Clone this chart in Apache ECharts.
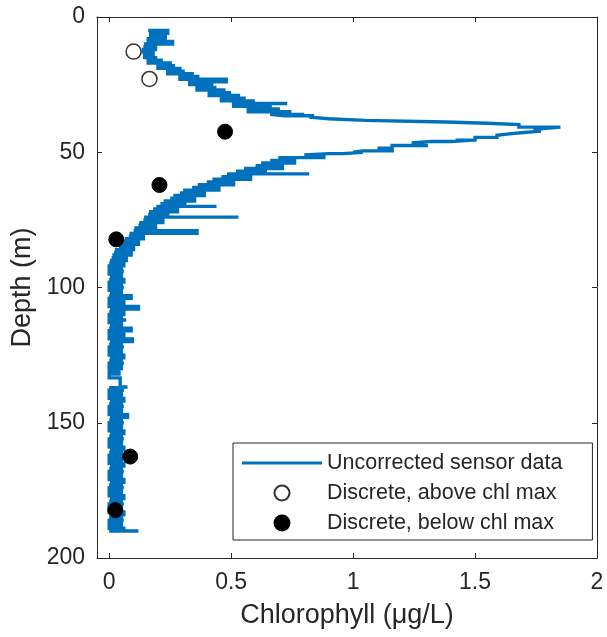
<!DOCTYPE html>
<html>
<head>
<meta charset="utf-8">
<script src="https://cdn.jsdelivr.net/npm/echarts@6/dist/echarts.min.js"></script>
<style>
  html, body { margin: 0; padding: 0; background: #fff; }
  #chart { width: 607px; height: 637px; }
</style>
</head>
<body>
<div id="chart"></div>
<script>
// Sensor profile, binned by depth (m): lowest and highest chlorophyll (ug/L) read in each bin.
// Where low == high the bin holds a single reading.
const binDepth = [
  5, 6, 7, 8, 9, 10, 11, 12, 13, 14,
  15, 16, 17, 18, 19, 20, 21, 22, 23, 24, 25, 26, 27, 28, 29, 30, 31, 32, 33, 34, 35, 36, 36.5,
  37, 37.6, 38.2, 38.8, 39.3, 39.8, 40.7, 41.2, 41.7, 42.2, 42.7, 43.2, 43.7,
  44.5, 45.5, 46, 46.6, 47.5, 48.5, 49.5, 50, 50.5, 51,
  52, 53, 54, 55, 56, 57, 58, 59, 60, 61, 62, 63, 64, 65, 66, 67, 68, 69, 70, 71,
  72, 73, 74, 75, 76, 77, 78, 79, 80, 81, 82, 83, 84, 85, 86, 87, 88, 89, 90, 91,
  92, 93, 94, 95, 96, 97, 98, 99, 100, 101, 102, 103, 104, 105, 106, 107, 108, 109, 110, 111,
  112, 113, 114, 115, 116, 117, 118, 119, 120, 121, 122, 123, 124, 125, 126, 127, 128, 129, 130, 131,
  132, 133.4, 136.8,
  137, 138, 139, 140, 141, 142, 143, 144, 145, 146, 147, 148, 149, 150, 151, 152, 153, 154,
  155, 156, 157, 158, 159, 160, 161, 162, 163, 164, 165, 166, 167, 168, 169, 170, 171, 172,
  173, 174, 175, 176, 177, 178, 179, 180, 181, 182, 183, 184, 185, 186, 187, 188, 189, 190
];
const binLow = [
  0.16, 0.17, 0.17, 0.16, 0.17, 0.15, 0.14, 0.14, 0.14, 0.145,
  0.15, 0.16, 0.18, 0.20, 0.22, 0.24, 0.27, 0.29, 0.31, 0.33, 0.35, 0.36, 0.38, 0.41, 0.43, 0.46, 0.49, 0.51, 0.54, 0.57, 0.61, 0.66, 0.72,
  0.82, 0.90, 1.05, 1.38, 1.55, 1.68, 1.85, 1.78, 1.74, 1.77, 1.70, 1.64, 1.59,
  1.50, 1.42, 1.32, 1.24, 1.16, 1.10, 1.04, 1.00, 0.90, 0.80,
  0.70, 0.66, 0.63, 0.60, 0.56, 0.52, 0.49, 0.46, 0.43, 0.40, 0.37, 0.34, 0.31, 0.29, 0.27, 0.25, 0.23, 0.21, 0.20, 0.18,
  0.17, 0.16, 0.15, 0.14, 0.13, 0.12, 0.11, 0.10, 0.09, 0.08, 0.07, 0.06, 0.05, 0.04, 0.03, 0.02, 0.02, 0.01, 0.01, 0.00,
  0.00, 0.01, 0.00, 0.00, 0.01, 0.00, 0.00, 0.01, 0.00, 0.00, 0.01, 0.00, 0.00, 0.01, 0.00, 0.00, 0.01, 0.00, 0.00, 0.01,
  0.00, 0.00, 0.01, 0.00, 0.00, 0.01, 0.00, 0.00, 0.01, 0.00, 0.00, 0.01, 0.00, 0.00, 0.01, 0.00, 0.00, 0.01, 0.00, 0.00,
  0.00, 0.045, 0.075,
  0.00, 0.00, 0.01, 0.00, 0.00, 0.01, 0.00, 0.00, 0.01, 0.00, 0.00, 0.01, 0.00, 0.00, 0.01, 0.00, 0.00, 0.01,
  0.00, 0.00, 0.01, 0.00, 0.00, 0.01, 0.00, 0.00, 0.01, 0.00, 0.00, 0.01, 0.00, 0.00, 0.01, 0.00, 0.00, 0.01,
  0.00, 0.00, 0.01, 0.00, 0.00, 0.01, 0.00, 0.00, 0.01, 0.00, 0.00, 0.01, 0.00, 0.00, 0.01, 0.00, 0.00, 0.00
];
const binHigh = [
  0.24, 0.22, 0.23, 0.20, 0.26, 0.21, 0.19, 0.18, 0.18, 0.18,
  0.19, 0.22, 0.25, 0.27, 0.29, 0.31, 0.34, 0.37, 0.48, 0.40, 0.42, 0.44, 0.47, 0.50, 0.53, 0.56, 0.59, 0.73, 0.66, 0.70, 0.74, 0.80, 0.84,
  0.82, 0.90, 1.05, 1.38, 1.55, 1.68, 1.85, 1.78, 1.74, 1.77, 1.70, 1.64, 1.59,
  1.56, 1.49, 1.40, 1.30, 1.22, 1.16, 1.10, 1.04, 0.96, 0.88,
  0.78, 0.76, 0.73, 0.71, 0.67, 0.64, 0.82, 0.58, 0.55, 0.51, 0.48, 0.45, 0.42, 0.39, 0.37, 0.35, 0.33, 0.31, 0.44, 0.28,
  0.26, 0.24, 0.53, 0.22, 0.20, 0.19, 0.17, 0.36, 0.15, 0.14, 0.13, 0.12, 0.11, 0.10, 0.09, 0.09, 0.08, 0.07, 0.07, 0.06,
  0.06, 0.05, 0.06, 0.05, 0.05, 0.06, 0.05, 0.05, 0.06, 0.05, 0.05, 0.09, 0.05, 0.06, 0.05, 0.12, 0.05, 0.06, 0.05, 0.05,
  0.07, 0.05, 0.05, 0.09, 0.05, 0.06, 0.05, 0.095, 0.05, 0.05, 0.06, 0.05, 0.05, 0.06, 0.05, 0.05, 0.06, 0.05, 0.05, 0.04,
  0.03, 0.045, 0.075,
  0.05, 0.06, 0.05, 0.05, 0.06, 0.05, 0.05, 0.06, 0.05, 0.05, 0.075, 0.05, 0.05, 0.06, 0.05, 0.05, 0.06, 0.05,
  0.05, 0.06, 0.05, 0.05, 0.06, 0.05, 0.05, 0.06, 0.05, 0.05, 0.06, 0.05, 0.05, 0.06, 0.05, 0.05, 0.06, 0.05,
  0.05, 0.06, 0.05, 0.05, 0.06, 0.05, 0.05, 0.06, 0.05, 0.05, 0.06, 0.05, 0.05, 0.06, 0.05, 0.05, 0.06, 0.12
];

// Discrete bottle samples
const aboveDepth = [12.8, 22.9];
const aboveChl = [0.10, 0.165];
const belowDepth = [42.4, 62.1, 82.2, 162.5, 182.3];
const belowChl = [0.475, 0.206, 0.029, 0.086, 0.025];

// Axis ticks
const chlTicks = [0, 0.5, 1, 1.5, 2];
const depthTicks = [0, 50, 100, 150, 200];

const seriesNames = ['Uncorrected sensor data', 'Discrete, above chl max', 'Discrete, below chl max'];

const ink = '#262626';
const font = '"Liberation Sans", Arial, Helvetica, sans-serif';

// The cast trace sweeps across each bin, alternating direction, so the readings
// inside a bin appear as horizontal runs joined bin to bin.
function castTrace(depths, lows, highs) {
  const pts = [];
  let leftToRight = true;
  depths.forEach((d, i) => {
    const a = lows[i], b = highs[i];
    if (a === b) { pts.push([a, d]); return; }
    if (leftToRight) pts.push([a, d], [b, d]);
    else pts.push([b, d], [a, d]);
    leftToRight = !leftToRight;
  });
  return pts;
}
const pairs = (xs, ys) => xs.map((x, i) => [x, ys[i]]);

const chart = echarts.init(document.getElementById('chart'), null, { renderer: 'canvas' });

const xBase = {
  type: 'value', min: -0.05, max: 2,
  splitLine: { show: false },
  axisLine: { show: true, onZero: false, lineStyle: { color: ink, width: 1 } },
  axisTick: { show: true, inside: true, length: 5, customValues: chlTicks, lineStyle: { color: ink } }
};
const yBase = {
  type: 'value', min: 0, max: 200, inverse: true,
  splitLine: { show: false },
  axisLine: { show: true, onZero: false, lineStyle: { color: ink, width: 1 } },
  axisTick: { show: true, inside: true, length: 5, customValues: depthTicks, lineStyle: { color: ink } }
};

chart.setOption({
  animation: false,
  backgroundColor: '#fff',
  textStyle: { fontFamily: font },
  grid: { left: 97, right: 10, top: 17, bottom: 79, containLabel: false },
  xAxis: [
    Object.assign({}, xBase, {
      position: 'bottom',
      name: 'Chlorophyll (\u03BCg/L)',
      nameLocation: 'middle', nameGap: 44,
      nameTextStyle: { color: ink, fontSize: 27, fontFamily: font },
      axisLabel: { show: true, customValues: chlTicks, margin: 13, color: ink, fontSize: 23, fontFamily: font }
    }),
    Object.assign({}, xBase, { position: 'top', axisLabel: { show: false } })
  ],
  yAxis: [
    Object.assign({}, yBase, {
      position: 'left',
      name: 'Depth (m)',
      nameLocation: 'middle', nameGap: 51, nameRotate: 90,
      nameTextStyle: { color: ink, fontSize: 27, fontFamily: font },
      axisLabel: { show: true, customValues: depthTicks, margin: 12, color: ink, fontSize: 23, fontFamily: font }
    }),
    Object.assign({}, yBase, { position: 'right', axisLabel: { show: false } })
  ],
  legend: {
    orient: 'vertical',
    left: 233, top: 443,
    padding: [9, 30, 6, 9],
    itemWidth: 80, itemHeight: 15, itemGap: 8,
    backgroundColor: '#fff',
    borderColor: ink, borderWidth: 1, borderRadius: 0,
    textStyle: { color: ink, fontSize: 21.5, fontFamily: font },
    data: [
      { name: seriesNames[0], icon: 'path://M0,0L80,0L80,3L0,3Z' },
      { name: seriesNames[1] },
      { name: seriesNames[2] }
    ]
  },
  series: [
    {
      name: seriesNames[0], type: 'line',
      data: castTrace(binDepth, binLow, binHigh),
      step: 'start',
      symbol: 'none', showSymbol: false,
      lineStyle: { color: '#0072BD', width: 3.4, join: 'miter', miterLimit: 1.6, cap: 'butt' },
      itemStyle: { color: '#0072BD', opacity: 1 },
      z: 2
    },
    {
      name: seriesNames[1], type: 'scatter',
      data: pairs(aboveChl, aboveDepth),
      symbol: 'circle', symbolSize: 15,
      itemStyle: { color: '#fff', borderColor: '#333', borderWidth: 1.5, opacity: 1 },
      z: 3
    },
    {
      name: seriesNames[2], type: 'scatter',
      data: pairs(belowChl, belowDepth),
      symbol: 'circle', symbolSize: 15,
      itemStyle: { color: '#000', borderColor: '#000', borderWidth: 1, opacity: 1 },
      z: 3
    }
  ]
});
</script>
</body>
</html>
